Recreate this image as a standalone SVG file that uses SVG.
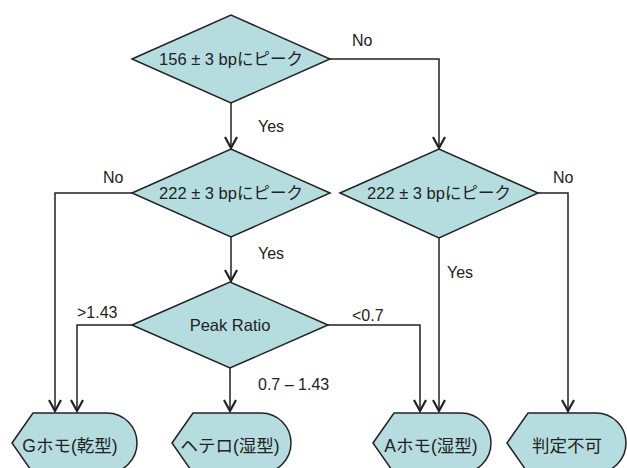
<svg xmlns="http://www.w3.org/2000/svg" width="627" height="468" viewBox="0 0 627 468">
<style>
.shape{fill:#b5dde0;stroke:#222;stroke-width:1.5}
.t{font-family:"Liberation Sans","Noto Sans CJK JP",sans-serif;font-size:16.5px;fill:#222;text-anchor:middle}
.tt{font-family:"Liberation Sans","Noto Sans CJK JP",sans-serif;font-size:17.5px;fill:#222;text-anchor:middle}
.l{font-family:"Liberation Sans","Noto Sans CJK JP",sans-serif;font-size:16px;fill:#222}
.c{fill:none;stroke:#222;stroke-width:1.5}
</style>
<defs>
<marker id="arr" markerUnits="userSpaceOnUse" markerWidth="16" markerHeight="16" refX="14" refY="8" orient="auto" viewBox="0 0 16 16">
<path d="M3,2 L14,8 L3,14" fill="none" stroke="#222" stroke-width="2.2"/>
</marker>
</defs>
<rect width="627" height="468" fill="#fff"/>
<g id="connectors">
<path class="c" d="M231,103 V148" marker-end="url(#arr)"/>
<path class="c" d="M330,59 H439 V148" marker-end="url(#arr)"/>
<path class="c" d="M132,193 H55 V411" marker-end="url(#arr)"/>
<path class="c" d="M231,237 V281" marker-end="url(#arr)"/>
<path class="c" d="M439,238 V411" marker-end="url(#arr)"/>
<path class="c" d="M538,193 H568 V411" marker-end="url(#arr)"/>
<path class="c" d="M132,325 H77 V411" marker-end="url(#arr)"/>
<path class="c" d="M328,325 H420 V411" marker-end="url(#arr)"/>
<path class="c" d="M230,368 V411" marker-end="url(#arr)"/>
<text class="l" x="352" y="46">No</text>
<text class="l" x="258" y="132">Yes</text>
<text class="l" x="103" y="183">No</text>
<text class="l" x="258" y="259">Yes</text>
<text class="l" x="447" y="278">Yes</text>
<text class="l" x="553" y="183">No</text>
<text class="l" x="77" y="318">&gt;1.43</text>
<text class="l" x="352" y="321">&lt;0.7</text>
<text class="l" x="258" y="390">0.7 – 1.43</text>
</g>
<g id="d1">
<polygon class="shape" points="132,59 231,15 330,59 231,103"/>
<text class="t" x="231" y="65">156 ± 3 bpにピーク</text>
</g>
<g id="d2">
<polygon class="shape" points="132,193 231,149 330,193 231,237"/>
<text class="t" x="231" y="199">222 ± 3 bpにピーク</text>
</g>
<g id="d3">
<polygon class="shape" points="340,193 439,149 538,193 439,238"/>
<text class="t" x="439" y="199">222 ± 3 bpにピーク</text>
</g>
<g id="d4">
<polygon class="shape" points="132,325 230,282 328,325 230,368"/>
<text class="t" x="230" y="331">Peak Ratio</text>
</g>
<g id="tG">
<path class="shape" d="M12,443 L33,413 H107 A30,30 0 0 1 107,473 H33 Z"/>
<text class="tt" x="70" y="452">Gホモ(乾型)</text>
</g>
<g id="tHetero">
<path class="shape" d="M172,443 L193,413 H261 A30,30 0 0 1 261,473 H193 Z"/>
<text class="tt" x="230" y="452">ヘテロ(湿型)</text>
</g>
<g id="tA">
<path class="shape" d="M373,443 L394,413 H461 A30,30 0 0 1 461,473 H394 Z"/>
<text class="tt" x="431" y="452">Aホモ(湿型)</text>
</g>
<g id="tNone">
<path class="shape" d="M507,443 L528,413 H596 A30,30 0 0 1 596,473 H528 Z"/>
<text class="tt" x="567" y="452">判定不可</text>
</g>
</svg>
